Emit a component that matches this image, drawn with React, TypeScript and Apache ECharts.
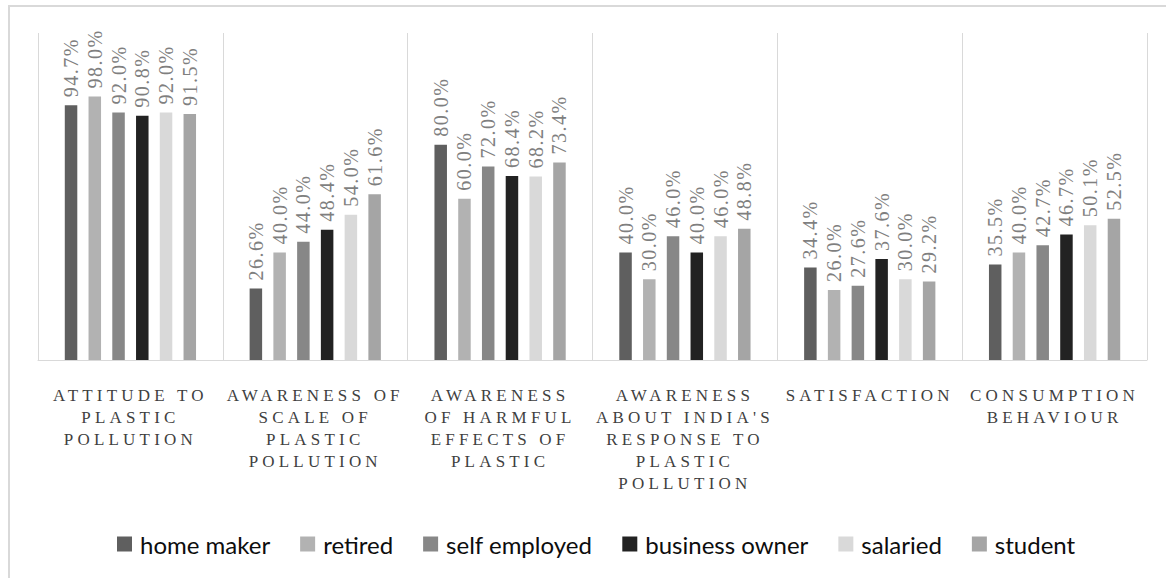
import React, { useEffect, useRef } from "react";
import * as echarts from "echarts";

const categories: string[] = [
  "ATTITUDE TO\nPLASTIC\nPOLLUTION",
  "AWARENESS OF\nSCALE OF\nPLASTIC\nPOLLUTION",
  "AWARENESS\nOF HARMFUL\nEFFECTS OF\nPLASTIC",
  "AWARENESS\nABOUT INDIA'S\nRESPONSE TO\nPLASTIC\nPOLLUTION",
  "SATISFACTION",
  "CONSUMPTION\nBEHAVIOUR",
];

const seriesNames: string[] = [
  "home maker",
  "retired",
  "self employed",
  "business owner",
  "salaried",
  "student",
];

const homeMaker: number[] = [94.7, 26.6, 80.0, 40.0, 34.4, 35.5];
const retired: number[] = [98.0, 40.0, 60.0, 30.0, 26.0, 40.0];
const selfEmployed: number[] = [92.0, 44.0, 72.0, 46.0, 27.6, 42.7];
const businessOwner: number[] = [90.8, 48.4, 68.4, 40.0, 37.6, 46.7];
const salaried: number[] = [92.0, 54.0, 68.2, 46.0, 30.0, 50.1];
const student: number[] = [91.5, 61.6, 73.4, 48.8, 29.2, 52.5];

const seriesValues: number[][] = [homeMaker, retired, selfEmployed, businessOwner, salaried, student];
const colors: string[] = ["#5f5f5f", "#b2b2b2", "#878787", "#222222", "#d9d9d9", "#a5a5a5"];

const CAT_COLOR = "#3f3f3f";
const VAL_COLOR = "#7f7f7f";

export default function App() {
  const ref = useRef<HTMLDivElement>(null);
  useEffect(() => {
    if (!ref.current) return;
    const chart = echarts.init(ref.current, undefined, { renderer: "svg" });
    chart.setOption({
      animation: false,
      backgroundColor: "#ffffff",
      graphic: [
        {
          type: "rect",
          shape: { x: 9, y: 6, width: 1180, height: 600 },
          style: { fill: "none", stroke: "#d9d9d9", lineWidth: 2 },
          silent: true,
        },
      ],
      legend: {
        data: seriesNames,
        left: 112,
        top: 527,
        itemWidth: 15,
        itemHeight: 15,
        itemGap: 30,
        icon: "rect",
        textStyle: {
          fontFamily: "Lato, 'Liberation Sans', sans-serif",
          fontSize: 24,
          color: "#0d0d0d",
          padding: [0, 0, 0, 3],
        },
      },
      grid: { left: 38, right: 19, top: 33, bottom: 218, containLabel: false },
      xAxis: {
        type: "category",
        data: categories,
        axisLine: { show: true, lineStyle: { color: "#d9d9d9", width: 1 } },
        axisTick: { show: false },
        splitLine: { show: true, interval: 0, lineStyle: { color: "#d9d9d9", width: 1 } },
        axisLabel: {
          interval: 0,
          margin: 24,
          fontFamily: "'Liberation Serif', serif",
          fontSize: 17,
          lineHeight: 22,
          color: CAT_COLOR,
          align: "center",
        },
      },
      yAxis: {
        type: "value",
        min: 0,
        max: 121.6,
        show: false,
        splitLine: { show: false },
      },
      series: seriesNames.map((name, i) => ({
        name,
        type: "bar",
        data: seriesValues[i],
        barWidth: 12.5,
        barGap: "90%",
        itemStyle: { color: colors[i] },
        label: {
          show: true,
          position: "top",
          rotate: 90,
          align: "left",
          verticalAlign: "middle",
          distance: 8,
          fontFamily: "'Liberation Serif', serif",
          fontSize: 20,
          color: VAL_COLOR,
          formatter: (p: any) => p.value.toFixed(1) + "%",
        },
      })),
    });
    return () => chart.dispose();
  }, []);
  return (
    <>
      <style>{`
        .chart-box text[fill="${CAT_COLOR}"] { letter-spacing: 4.2px; }
        .chart-box text[fill="${VAL_COLOR}"] { letter-spacing: 1.5px; }
      `}</style>
      <div
        ref={ref}
        className="chart-box"
        style={{ position: "absolute", left: 0, top: 0, width: 1166, height: 578, background: "#fff" }}
      />
    </>
  );
}
